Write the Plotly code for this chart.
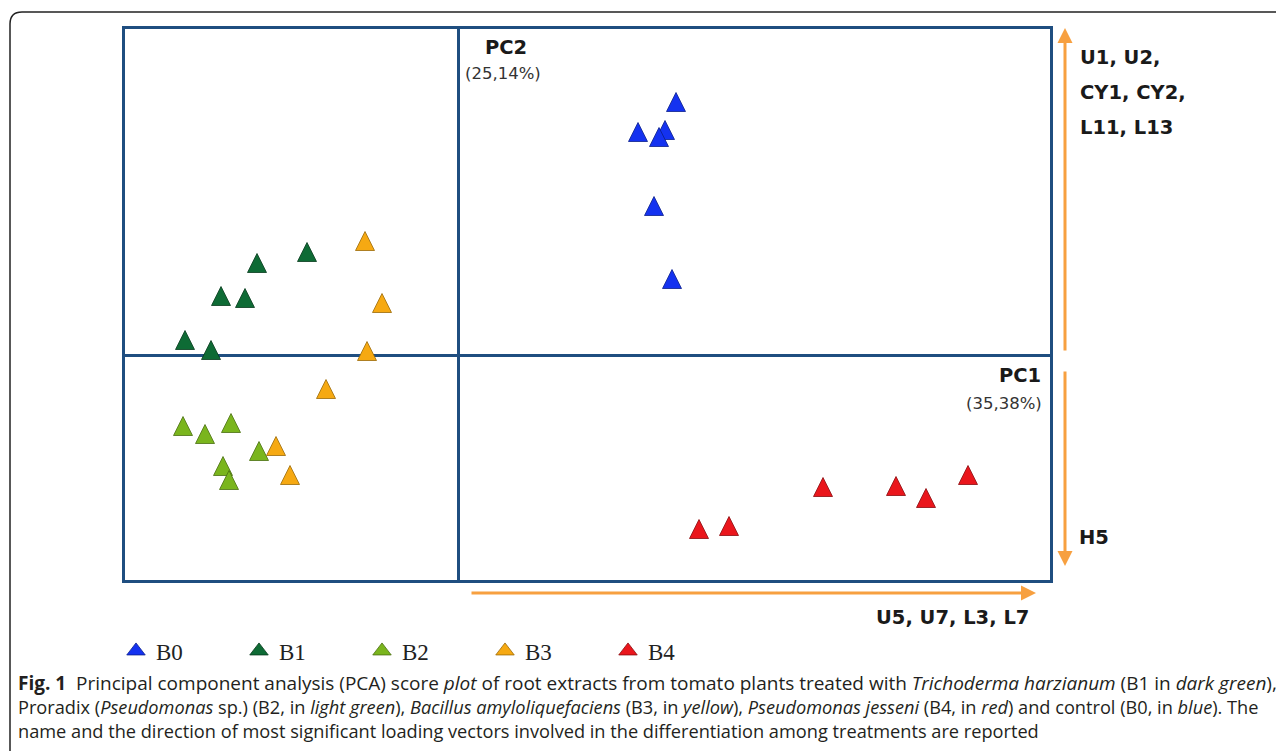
import plotly.graph_objects as go

W, H = 1284, 751

# ---- data (PCA scores) ----
groups = ["B0", "B1", "B2", "B3", "B4"]
pc1_B0 = [2.18, 1.80, 2.07, 2.01, 1.96, 2.14]
pc2_B0 = [2.53, 2.23, 2.25, 2.18, 1.49, 0.76]
pc1_B1 = [-2.01, -1.51, -2.37, -2.13, -2.73, -2.47]
pc2_B1 = [0.92, 1.03, 0.59, 0.57, 0.15, 0.05]
pc1_B2 = [-2.75, -2.53, -2.27, -1.99, -2.35, -2.29]
pc2_B2 = [-0.71, -0.79, -0.68, -0.96, -1.11, -1.25]
pc1_B3 = [-0.93, -0.76, -0.91, -1.32, -1.82, -1.68]
pc2_B3 = [1.14, 0.52, 0.04, -0.34, -0.91, -1.20]
pc1_B4 = [2.41, 2.71, 3.65, 4.38, 4.68, 5.10]
pc2_B4 = [-1.74, -1.71, -1.32, -1.31, -1.43, -1.20]

pc1 = [pc1_B0, pc1_B1, pc1_B2, pc1_B3, pc1_B4]
pc2 = [pc2_B0, pc2_B1, pc2_B2, pc2_B3, pc2_B4]

colors = ["#1432F0", "#0E6B35", "#7AB51D", "#F6A912", "#EA161C"]
edges = ["#0A1E8C", "#063A1C", "#4A6E10", "#9A6A08", "#8A0A0E"]

pc2_label = "PC2"
pc2_var = "(25,14%)"
pc1_label = "PC1"
pc1_var = "(35,38%)"
load_up = ["U1, U2,", "CY1, CY2,", "L11, L13"]
load_down = "H5"
load_right = "U5, U7, L3, L7"
caption = [
    "<b>Fig. 1</b>  Principal component analysis (PCA) score <i>plot</i> of root extracts from tomato plants treated with <i>Trichoderma harzianum</i> (B1 in <i>dark green</i>),",
    "Proradix (<i>Pseudomonas</i> sp.) (B2, in <i>light green</i>), <i>Bacillus amyloliquefaciens</i> (B3, in <i>yellow</i>), <i>Pseudomonas jesseni</i> (B4, in <i>red</i>) and control (B0, in <i>blue</i>). The",
    "name and the direction of most significant loading vectors involved in the differentiation among treatments are reported",
]
caption_sizes = [19.0, 18.2, 18.2]

# ---- layout helpers (page pixel -> paper); page body adds an 8 px offset ----
OFF = 8

def px(x):
    return (x - OFF) / W

def py(y):
    return 1 - (y - OFF) / H

x_range = [-3.33, 5.92]
y_range = [-2.25, 3.26]
box_l, box_r, box_t, box_b = 125, 1050, 29, 580
msize = 19
# arrow-up markers have their apex at the data point; an overlaid y axis
# shifted by half a marker height centres each triangle on its value
shift = (msize / 2) * (y_range[1] - y_range[0]) / (box_b - box_t)
y2_range = [y_range[0] - shift, y_range[1] - shift]

fig = go.Figure()
for g, xs, ys, c, e in zip(groups, pc1, pc2, colors, edges):
    fig.add_trace(go.Scatter(
        x=xs, y=ys, mode="markers", name=g, yaxis="y2", legendgroup=g,
        showlegend=False,
        marker=dict(symbol="arrow-up", size=msize, color=c,
                    line=dict(color=e, width=0.8)),
    ))
# legend entries (centred triangles)
for g, c, e in zip(groups, colors, edges):
    fig.add_trace(go.Scatter(
        x=[None], y=[None], mode="markers", name=g, legendgroup=g,
        marker=dict(symbol="triangle-up", size=16, color=c,
                    line=dict(color=e, width=0.8)),
        hoverinfo="skip",
    ))

frame = "#1F4E80"
axis_common = dict(showgrid=False, showticklabels=False, ticks="",
                   showline=True, mirror=True, linecolor=frame, linewidth=3,
                   zeroline=True, zerolinecolor=frame, zerolinewidth=3)
fig.update_layout(
    width=W, height=H,
    margin=dict(l=0, r=0, t=0, b=0),
    paper_bgcolor="white", plot_bgcolor="white",
    xaxis=dict(domain=[px(box_l), px(box_r)], range=x_range, **axis_common),
    yaxis=dict(domain=[py(box_b), py(box_t)], range=y_range, **axis_common),
    yaxis2=dict(domain=[py(box_b), py(box_t)], range=y2_range, overlaying="y",
                visible=False),
    showlegend=True,
    legend=dict(orientation="h", x=px(116), y=py(651), xanchor="left", yanchor="middle",
                font=dict(family="Liberation Serif", size=23, color="#222"),
                entrywidth=78, entrywidthmode="pixels", bgcolor="rgba(0,0,0,0)"),
)

bold_font = dict(family="DejaVu Sans", size=19.5, color="#1a1a1a")
reg_font = dict(family="DejaVu Sans", size=16.5, color="#333")
ann = []
ann.append(dict(x=px(483), y=py(47), text=f"<b>{pc2_label}</b>", xanchor="left", yanchor="middle", font=bold_font))
ann.append(dict(x=px(463), y=py(73), text=pc2_var, xanchor="left", yanchor="middle", font=reg_font))
ann.append(dict(x=px(1043), y=py(375), text=f"<b>{pc1_label}</b>", xanchor="right", yanchor="middle", font=bold_font))
ann.append(dict(x=px(1044), y=py(403), text=pc1_var, xanchor="right", yanchor="middle", font=reg_font))
for i, t in enumerate(load_up):
    ann.append(dict(x=px(1078), y=py(58 + 35 * i), text=f"<b>{t}</b>", xanchor="left", yanchor="middle", font=bold_font))
ann.append(dict(x=px(1077), y=py(537), text=f"<b>{load_down}</b>", xanchor="left", yanchor="middle", font=bold_font))
ann.append(dict(x=px(1031), y=py(617), text=f"<b>{load_right}</b>", xanchor="right", yanchor="middle", font=bold_font))
for i, (t, s) in enumerate(zip(caption, caption_sizes)):
    ann.append(dict(x=px(16), y=py(683 + 24 * i), text=t, xanchor="left", yanchor="middle",
                    font=dict(family="Open Sans", size=s, color="#231f20")))

orange = "#F7A040"
# loading-direction arrows
ann.append(dict(x=px(1036), y=py(593), ax=-566, ay=0, text="", showarrow=True,
                arrowhead=2, arrowsize=1, arrowwidth=3, arrowcolor=orange))
ann.append(dict(x=px(1065), y=py(28), ax=0, ay=324, text="", showarrow=True,
                arrowhead=2, arrowsize=1, arrowwidth=3, arrowcolor=orange))
ann.append(dict(x=px(1065), y=py(566), ax=0, ay=-196, text="", showarrow=True,
                arrowhead=2, arrowsize=1, arrowwidth=3, arrowcolor=orange))
for a in ann:
    a.setdefault("showarrow", False)
    a["xref"] = "paper"
    a["yref"] = "paper"
fig.update_layout(annotations=ann)

# outer rounded frame of the figure panel
r = 12
path = (f"M {px(10)},{py(770)} L {px(10)},{py(12 + r)} "
        f"Q {px(10)},{py(12)} {px(10 + r)},{py(12)} L {px(1310)},{py(12)}")
fig.add_shape(type="path", path=path, xref="paper", yref="paper",
              line=dict(color="#222", width=1.5))

fig.write_html("out.html")
